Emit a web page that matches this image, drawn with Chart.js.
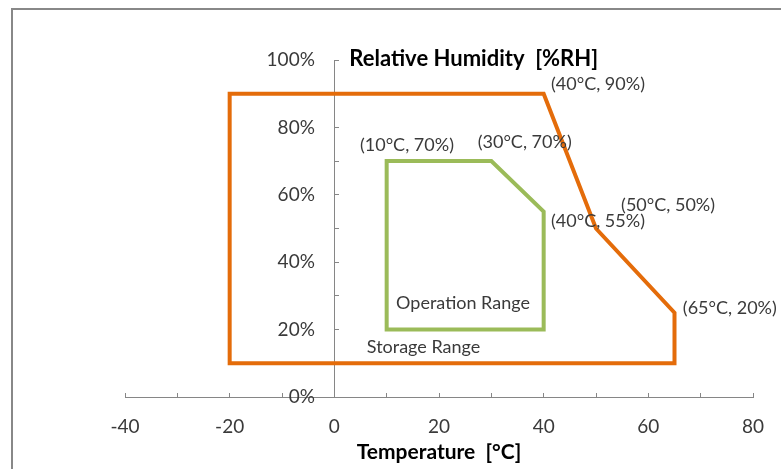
<!DOCTYPE html>
<html><head><meta charset="utf-8">
<script src="https://cdn.jsdelivr.net/npm/chart.js@4"></script>
<style>
html,body{margin:0;padding:0;background:#fff;}
#wrap{position:relative;width:781px;height:469px;overflow:hidden;}
#frame{position:absolute;left:11px;top:8px;width:900px;height:600px;border-left:2px solid #888;border-top:2px solid #888;}
canvas{position:absolute;left:0;top:0;}
</style></head><body>
<div id="wrap"><div id="frame"></div><canvas id="c" width="781" height="469"></canvas></div>
<script>
// Storage range polygon (°C, %RH) - closed
const storageTemp = [-20, 40, 50, 65, 65, -20, -20];
const storageRH   = [ 90, 90, 50, 25, 10,  10,  90];
// Operation range polygon (°C, %RH) - closed
const operationTemp = [10, 30, 40, 40, 10, 10];
const operationRH   = [70, 70, 55, 20, 20, 70];
// Tick labels
const xTickLabels = [-40, -20, 0, 20, 40, 60, 80];
const yTickLabels = [0, 20, 40, 60, 80, 100];
// Text notes and where they sit (in °C / %RH)
const noteText = ['(40°C, 90%)', '(10°C, 70%)', '(30°C, 70%)', '(50°C, 50%)', '(40°C, 55%)', '(65°C, 20%)', 'Operation Range', 'Storage Range'];
const noteTemp = [41.4, 4.9, 27.4, 54.8, 41.4, 66.6, 11.8, 6.2];
const noteRH   = [92.9, 74.7, 75.6, 57.0, 52.3, 26.4, 27.7, 14.7];
const xTitle = 'Temperature  [°C]';
const yTitle = 'Relative Humidity  [%RH]';

const toPts = (xs, ys) => xs.map((v, i) => ({x: v, y: ys[i]}));

const notePlugin = {
  id: 'notes',
  afterDatasetsDraw(chart) {
    const {ctx, scales: {x, y}} = chart;
    ctx.save();
    ctx.textAlign = 'left';
    ctx.textBaseline = 'middle';
    ctx.font = '18px Lato';
    ctx.fillStyle = '#3a3a3a';
    noteText.forEach((t, i) => ctx.fillText(t, x.getPixelForValue(noteTemp[i]), y.getPixelForValue(noteRH[i])));
    ctx.font = 'bold 22px Lato';
    ctx.fillStyle = '#000';
    ctx.fillText(yTitle, x.getPixelForValue(0) + 15, y.top - 1);
    ctx.restore();
  }
};

new Chart(document.getElementById('c'), {
  type: 'scatter',
  data: {
    datasets: [
      {label: 'Storage Range', data: toPts(storageTemp, storageRH), showLine: true, borderColor: '#E46C0A', borderWidth: 4, pointRadius: 0, fill: false, tension: 0, borderJoinStyle: 'miter', borderCapStyle: 'square'},
      {label: 'Operation Range', data: toPts(operationTemp, operationRH), showLine: true, borderColor: '#9BBB59', borderWidth: 4, pointRadius: 0, fill: false, tension: 0, borderJoinStyle: 'miter', borderCapStyle: 'square'}
    ]
  },
  options: {
    responsive: false,
    animation: false,
    devicePixelRatio: 1,
    layout: {padding: {left: 125, right: 28, top: 60, bottom: 0}},
    plugins: {legend: {display: false}, tooltip: {enabled: false}},
    scales: {
      x: {
        type: 'linear', position: 'bottom', min: -40, max: 80,
        afterFit(s) { s.height = 72; },
        ticks: {stepSize: 10, autoSkip: false, maxRotation: 0, padding: 0, color: '#3a3a3a', font: {family: 'Lato', size: 19, lineHeight: 3.53},
          callback: v => xTickLabels.includes(v) ? String(v) : ''},
        grid: {drawOnChartArea: false, drawTicks: true, tickLength: -4, color: '#868686'},
        border: {display: true, color: '#868686', width: 1},
        title: {display: true, text: xTitle, color: '#000', font: {family: 'Lato', size: 21, weight: 'bold'}, padding: {top: 0, bottom: 4}}
      },
      y: {
        type: 'linear', position: {x: 0}, min: 0, max: 100,
        ticks: {stepSize: 10, autoSkip: false, padding: 20, color: '#3a3a3a', font: {family: 'Lato', size: 19},
          callback: v => yTickLabels.includes(v) ? v + '%    ' : ''},
        grid: {drawOnChartArea: false, drawTicks: true, tickLength: -5, color: '#868686'},
        border: {display: true, color: '#868686', width: 1}
      }
    }
  },
  plugins: [notePlugin]
});
</script>
</body></html>
